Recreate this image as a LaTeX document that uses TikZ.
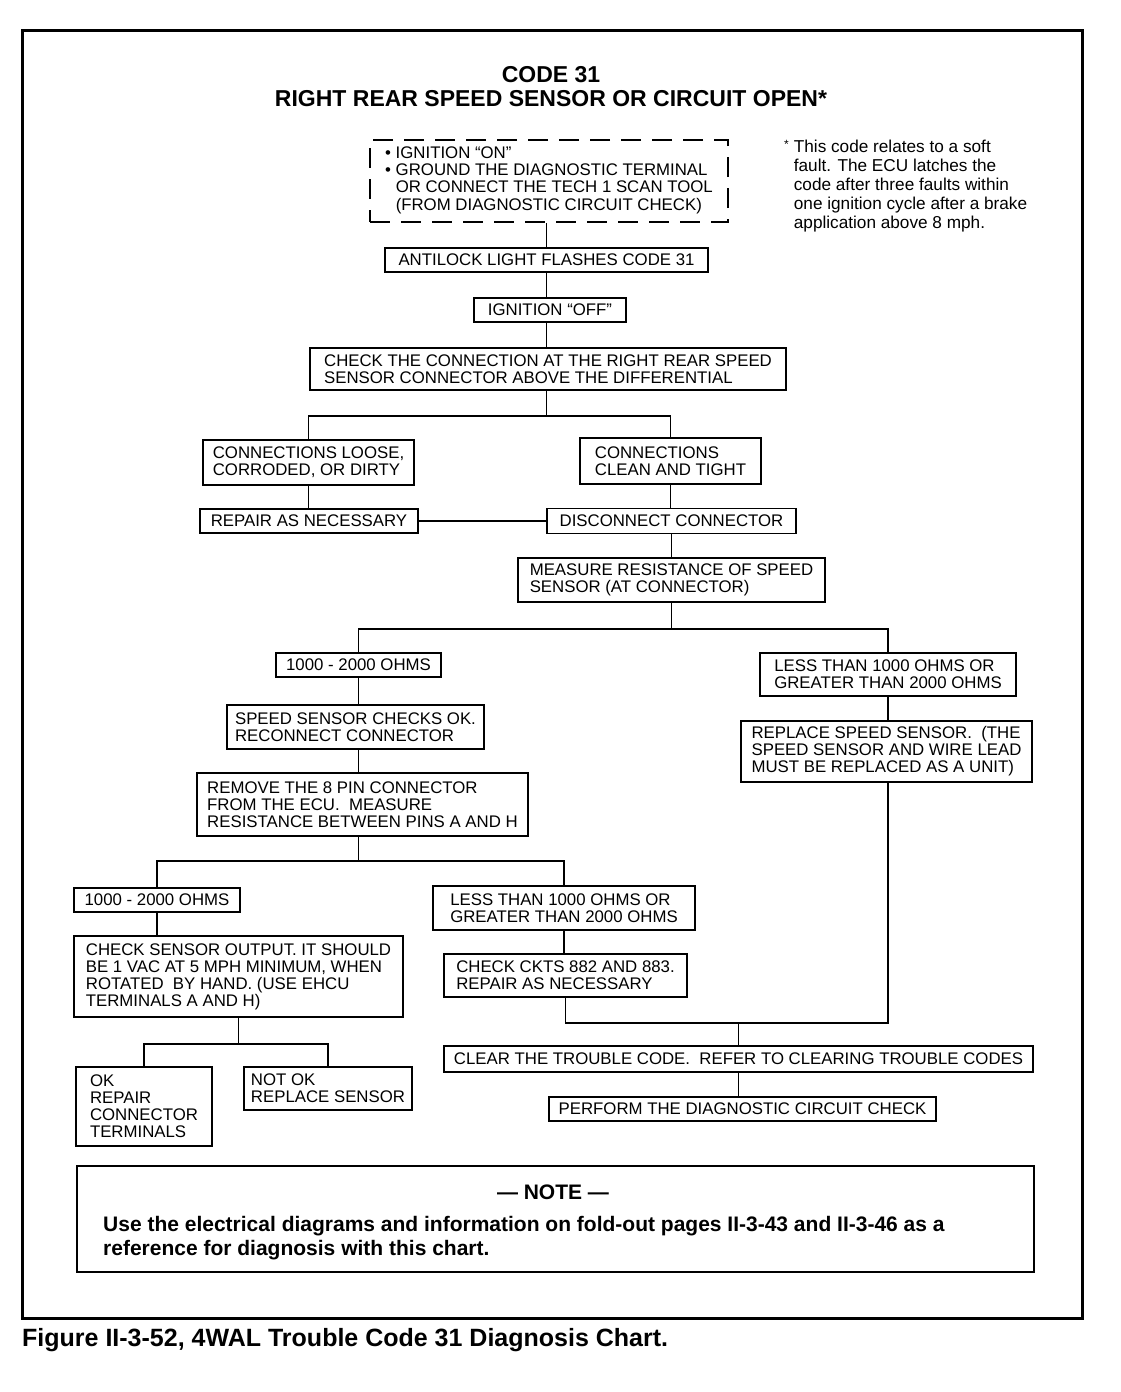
\documentclass[tikz,border=0pt]{standalone}
\usepackage{fontspec}
\setmainfont{Liberation Sans}
\usetikzlibrary{positioning, calc}
\newcommand{\boxfont}{\fontsize{16.8}{17}\selectfont}
\tikzstyle{stepbox} = [
    rectangle,
    draw=black,
    line width=1.6pt,
    align=left,
    inner sep=0pt,
    font=\boxfont
]
\tikzstyle{startbox} = [
    stepbox,
    dash pattern=on 20pt off 11pt
]
\tikzstyle{link} = [
    line width=1.6pt
]

\begin{document}
\begin{tikzpicture}[x=1pt, y=-1pt]
        \useasboundingbox (0,0) rectangle (1120,1392);
        \draw[line width=3pt] (22,30) rectangle (1082,1318);

        \node[align=center, font=\fontsize{23}{24}\selectfont\bfseries] (title) at (551,87) {CODE 31\\RIGHT REAR SPEED SENSOR OR CIRCUIT OPEN*};

        % top of the chart
        \node[startbox, minimum width=358pt, minimum height=82pt] (start) at (549,181) {%
            \begin{tabular}{@{}l@{\ }l@{}}
            • & IGNITION “ON”\\
            • & GROUND THE DIAGNOSTIC TERMINAL\\
              & OR CONNECT THE TECH 1 SCAN TOOL\\
              & (FROM DIAGNOSTIC CIRCUIT CHECK)
            \end{tabular}};
        \node[anchor=north west, align=left, inner sep=0pt, font=\fontsize{17.2}{19}\selectfont] (footnote) at (784,139) {%
            \begin{tabular}{@{}l@{\hspace{5pt}}l@{}}
            \raisebox{4pt}{\fontsize{12}{12}\selectfont *} & This code relates to a soft\\
              & fault. The ECU latches the\\
              & code after three faults within\\
              & one ignition cycle after a brake\\
              & application above 8 mph.
            \end{tabular}};
        \node[stepbox, minimum width=323pt, minimum height=24pt] (flash) at (546.5,260) {ANTILOCK LIGHT FLASHES CODE 31};
        \node[stepbox, minimum width=152pt, minimum height=24pt] (off) at (550,310) {IGNITION “OFF”};
        \node[stepbox, minimum width=476pt, minimum height=42pt] (check) at (548,369) {CHECK THE CONNECTION AT THE RIGHT REAR SPEED\\SENSOR CONNECTOR ABOVE THE DIFFERENTIAL};

        % connector branch
        \node[stepbox, minimum width=211pt, minimum height=45pt] (loose) at (308.5,462.5) {CONNECTIONS LOOSE,\\CORRODED, OR DIRTY};
        \node[stepbox, minimum width=181pt, minimum height=46pt] (clean) at (670.5,461) {CONNECTIONS\\CLEAN AND TIGHT};
        \node[stepbox, minimum width=218pt, minimum height=24pt] (repair) at (309,521) {REPAIR AS NECESSARY};
        \node[stepbox, minimum width=249pt, minimum height=25pt] (disconnect) at (671.5,521) {DISCONNECT CONNECTOR};
        \node[stepbox, minimum width=307pt, minimum height=44pt] (measure) at (671.5,580) {MEASURE RESISTANCE OF SPEED\\SENSOR (AT CONNECTOR)};

        % speed sensor resistance
        \node[stepbox, minimum width=165pt, minimum height=24pt] (okfirst) at (358.5,665) {1000 - 2000 OHMS};
        \node[stepbox, minimum width=256pt, minimum height=43pt] (badfirst) at (888,674.5) {LESS THAN 1000 OHMS OR\\GREATER THAN 2000 OHMS};
        \node[stepbox, minimum width=257pt, minimum height=44pt] (sensorok) at (355.5,727) {SPEED SENSOR CHECKS OK.\\RECONNECT CONNECTOR};
        \node[stepbox, minimum width=291pt, minimum height=61pt] (replace) at (886.5,751.5) {REPLACE SPEED SENSOR.\ \ (THE\\SPEED SENSOR AND WIRE LEAD\\MUST BE REPLACED AS A UNIT)};
        \node[stepbox, minimum width=331pt, minimum height=63pt] (remove) at (362.5,804.5) {REMOVE THE 8 PIN CONNECTOR\\FROM THE ECU.\ \ MEASURE\\RESISTANCE BETWEEN PINS A AND H};

        % resistance at the ECU
        \node[stepbox, minimum width=166pt, minimum height=24pt] (oksecond) at (157,900) {1000 - 2000 OHMS};
        \node[stepbox, minimum width=262pt, minimum height=44pt] (badsecond) at (564,908) {LESS THAN 1000 OHMS OR\\GREATER THAN 2000 OHMS};
        \node[stepbox, minimum width=329pt, minimum height=81pt] (output) at (238.5,976.5) {CHECK SENSOR OUTPUT. IT SHOULD\\BE 1 VAC AT 5 MPH MINIMUM, WHEN\\ROTATED\ \ BY HAND. (USE EHCU\\TERMINALS A AND H)};
        \node[stepbox, minimum width=243pt, minimum height=43pt] (ckts) at (565.5,975.5) {CHECK CKTS 882 AND 883.\\REPAIR AS NECESSARY};
        \node[stepbox, minimum width=136pt, minimum height=79pt] (okrepair) at (144,1106.5) {OK\\REPAIR\\CONNECTOR\\TERMINALS};
        \node[stepbox, minimum width=168pt, minimum height=43pt] (notok) at (328,1088.5) {NOT OK\\REPLACE SENSOR};
        \node[stepbox, minimum width=589pt, minimum height=26pt] (clear) at (738.5,1059) {CLEAR THE TROUBLE CODE.\ \ REFER TO CLEARING TROUBLE CODES};
        \node[stepbox, minimum width=387pt, minimum height=24pt] (perform) at (742.5,1109) {PERFORM THE DIAGNOSTIC CIRCUIT CHECK};

        % note
        \node[stepbox, minimum width=957pt, minimum height=106pt] (note) at (555.5,1219) {};
        \node[font=\fontsize{21}{22}\selectfont\bfseries] (notehead) at (553,1192) {— NOTE —};
        \node[anchor=west, align=left, inner sep=0pt, font=\fontsize{21}{24}\selectfont\bfseries] (notetext) at (103,1238) {Use the electrical diagrams and information on fold-out pages II-3-43 and II-3-46 as a\\reference for diagnosis with this chart.};
        \node[anchor=west, inner sep=0pt, font=\fontsize{25}{26}\selectfont\bfseries] (caption) at (22,1340) {Figure II-3-52, 4WAL Trouble Code 31 Diagnosis Chart.};

        % connectors
        \draw[link] (flash.north) -- (flash.north |- start.south);
        \draw[link] (flash.south) -- (flash.south |- off.north);
        \draw[link] (flash.south |- off.south) -- (flash.south |- check.north);
        \draw[link] (flash.south |- check.south) -- ++(0,25) coordinate (splitA);
        \draw[link] (loose.north) -- (loose.north |- splitA) -- (clean.north |- splitA) -- (clean.north);
        \draw[link] (loose.south) -- (loose.south |- repair.north);
        \draw[link] (clean.south) -- (clean.south |- disconnect.north);
        \draw[link] (repair.east) -- (disconnect.west);
        \draw[link] (disconnect.south) -- (disconnect.south |- measure.north);
        \draw[link] (measure.south) -- ++(0,26) coordinate (splitB);
        \draw[link] (okfirst.north) -- (okfirst.north |- splitB) -- (badfirst.north |- splitB) -- (badfirst.north);
        \draw[link] (okfirst.south) -- (okfirst.south |- sensorok.north);
        \draw[link] (okfirst.south |- sensorok.south) -- (okfirst.south |- remove.north);
        \draw[link] (badfirst.south) -- (badfirst.south |- replace.north);
        \draw[link] (okfirst.south |- remove.south) -- ++(0,24) coordinate (splitC);
        \draw[link] (oksecond.north) -- (oksecond.north |- splitC) -- (badsecond.north |- splitC) -- (badsecond.north);
        \draw[link] (oksecond.south) -- (oksecond.south |- output.north);
        \draw[link] (badsecond.south) -- (badsecond.south |- ckts.north);
        \draw[link] (output.south) -- ++(0,26) coordinate (splitD);
        \draw[link] (okrepair.north) -- (okrepair.north |- splitD) -- (notok.north |- splitD) -- (notok.north);
        \draw[link] (ckts.south) -- ++(0,25) coordinate (joinA) -- (joinA -| badfirst.south) -- (badfirst.south |- replace.south);
        \draw[link] (clear.north) -- (clear.north |- joinA);
        \draw[link] (clear.south) -- (clear.south |- perform.north);
    \end{tikzpicture}
\end{document}
